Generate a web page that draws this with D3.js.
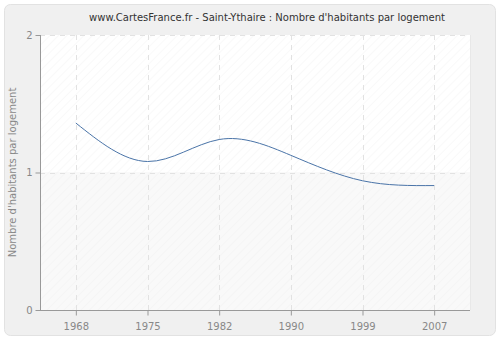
<!DOCTYPE html>
<html>
<head>
<meta charset="utf-8">
<script src="https://cdn.jsdelivr.net/npm/d3@7"></script>
<style>
  body { margin: 0; background: #ffffff; }
  text { font-family: "DejaVu Sans", Verdana, sans-serif; }
</style>
</head>
<body>
<script>
    var years = ["1968", "1975", "1982", "1990", "1999", "2007"];
    var values = [1.36, 1.08, 1.24, 1.125, 0.94, 0.905];
    var yTicks = [0, 1, 2];

    var W = 500, H = 340;
    var mLeft = 40, mRight = 470, mTop = 35, mBottom = 310;

    var svg = d3.select("body").append("svg")
                .attr("width", W)
                .attr("height", H);

    var defs = svg.append("defs");
    var pat = defs.append("pattern")
                .attr("id", "hatch")
                .attr("patternUnits", "userSpaceOnUse")
                .attr("width", 6)
                .attr("height", 6)
                .attr("patternTransform", "rotate(45)");
    pat.append("line")
        .attr("x1", 0).attr("y1", 0)
        .attr("x2", 0).attr("y2", 6)
        .attr("stroke", "#ececec")
        .attr("stroke-width", 1);

    // outer frame
    svg.append("rect")
        .attr("x", 0).attr("y", 0)
        .attr("width", W).attr("height", H)
        .attr("fill", "#ffffff");
    svg.append("rect")
        .attr("x", 4.5).attr("y", 4.5)
        .attr("width", W - 9).attr("height", H - 9)
        .attr("rx", 6)
        .attr("fill", "#f0f0f0")
        .attr("stroke", "#e2e2e2");

    var x = d3.scalePoint().domain(years).range([mLeft, mRight]).padding(0.5);
    var y = d3.scaleLinear().domain([0, 2]).range([mBottom, mTop]);

    // plot background
    svg.append("rect")
        .attr("x", mLeft).attr("y", mTop)
        .attr("width", mRight - mLeft).attr("height", y(1) - mTop)
        .attr("fill", "#ffffff");
    svg.append("rect")
        .attr("x", mLeft).attr("y", y(1))
        .attr("width", mRight - mLeft).attr("height", mBottom - y(1))
        .attr("fill", "#f9f9f9");
    svg.append("rect")
        .attr("x", mLeft).attr("y", mTop)
        .attr("width", mRight - mLeft).attr("height", mBottom - mTop)
        .attr("fill", "url(#hatch)")
        .attr("opacity", 0.6);

    // grid
    svg.selectAll(".vgrid")
        .data(years)
        .enter().append("line")
        .attr("x1", function (d) { return Math.round(x(d)) + 0.5; })
        .attr("x2", function (d) { return Math.round(x(d)) + 0.5; })
        .attr("y1", mTop)
        .attr("y2", mBottom)
        .attr("stroke", "#e2e2e2")
        .attr("stroke-dasharray", "5,5");

    svg.selectAll(".hgrid")
        .data(yTicks.filter(function (d) { return d > 0; }))
        .enter().append("line")
        .attr("x1", mLeft)
        .attr("x2", mRight)
        .attr("y1", function (d) { return Math.round(y(d)) + 0.5; })
        .attr("y2", function (d) { return Math.round(y(d)) + 0.5; })
        .attr("stroke", "#e2e2e2")
        .attr("stroke-dasharray", "5,5");

    // right border of plot
    svg.append("line")
        .attr("x1", mRight + 0.5).attr("x2", mRight + 0.5)
        .attr("y1", mTop).attr("y2", mBottom)
        .attr("stroke", "#e8e8e8");

    // line
    var line = d3.line()
                .x(function (d, i) { return x(years[i]); })
                .y(function (d) { return y(d); })
                .curve(d3.curveNatural);

    svg.append("path")
        .datum(values)
        .attr("d", line)
        .attr("fill", "none")
        .attr("stroke", "#4a74a8")
        .attr("stroke-width", 1);

    // axes
    var xAxis = svg.append("g")
        .attr("transform", "translate(0," + (mBottom + 0.5) + ")")
        .call(d3.axisBottom(x).tickSize(5).tickSizeOuter(0));
    var yAxis = svg.append("g")
        .attr("transform", "translate(" + (mLeft + 0.5) + ",0)")
        .call(d3.axisLeft(y).tickValues(yTicks).tickFormat(d3.format("d")).tickSize(5).tickSizeOuter(0));

    [xAxis, yAxis].forEach(function (g) {
        g.select(".domain").attr("stroke", "#999999");
        g.selectAll(".tick line").attr("stroke", "#999999");
        g.selectAll(".tick text")
            .attr("fill", "#888888")
            .style("font-family", "'DejaVu Sans', Verdana, sans-serif")
            .style("font-size", "10px");
    });
    xAxis.selectAll(".tick text").attr("dy", "1.1em");
    xAxis.select(".domain").attr("d", "M" + mLeft + ",0H" + mRight);
    yAxis.select(".domain").attr("d", "M0," + mTop + "V" + mBottom);

    // title
    svg.append("text")
        .attr("x", 267)
        .attr("y", 21)
        .attr("text-anchor", "middle")
        .attr("fill", "#333333")
        .style("font-size", "10px")
        .text("www.CartesFrance.fr - Saint-Ythaire : Nombre d'habitants par logement");

    // y label
    svg.append("text")
        .attr("transform", "translate(16," + y(1) + ") rotate(-90)")
        .attr("text-anchor", "middle")
        .attr("fill", "#888888")
        .style("font-size", "10px")
        .text("Nombre d'habitants par logement");
</script>
</body>
</html>
